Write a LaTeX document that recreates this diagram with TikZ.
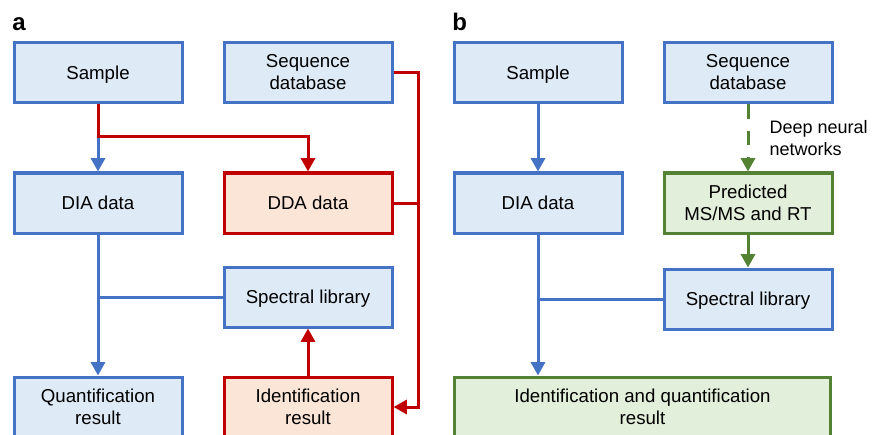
\documentclass[tikz,border=0pt]{standalone}
\usepackage{fontspec}
\setmainfont{Liberation Sans}
\usetikzlibrary{arrows.meta, positioning, calc}
\definecolor{bluebd}{HTML}{4472C4}
\definecolor{bluefl}{HTML}{DEEAF6}
\definecolor{redbd}{HTML}{C00000}
\definecolor{redfl}{HTML}{FBE5D6}
\definecolor{greenbd}{HTML}{548235}
\definecolor{greenfl}{HTML}{E2EFDA}

\begin{document}
\begin{tikzpicture}[x=0.75pt, y=-0.75pt,
                every node/.style={font=\fontsize{14pt}{16.5pt}\selectfont},
                box/.style={draw, line width=2.25pt, minimum width=126pt, minimum height=45pt, align=center, inner sep=0pt},
                oneline/.style={text height=10pt, text depth=0pt},
                bluebox/.style={box, draw=bluebd, fill=bluefl},
                redbox/.style={box, draw=redbd, fill=redfl},
                greenbox/.style={box, draw=greenbd, fill=greenfl},
                link/.style={line width=2.25pt},
                tip/.style={-{Triangle[width=10.5pt, length=10pt]}},
                panel/.style={font=\fontsize{18pt}{20pt}\selectfont\bfseries, anchor=base west, inner sep=0pt}]
                \useasboundingbox (0,0) rectangle (872,435);
                \clip (0,0) rectangle (872,435);
                % panel a
                \node[panel] (la) at (12, 31) {a};
                \node[bluebox, oneline] (sample) at (98, 72.5) {Sample};
                \node[bluebox] (seqdb) at (308, 72.5) {Sequence\\database};
                \node[bluebox, oneline] (dia) at (98, 203) {DIA data};
                \node[redbox, oneline] (dda) at (308, 203) {DDA data};
                \node[bluebox, oneline] (speclib) at (308, 297) {Spectral library};
                \node[bluebox] (quant) at (98, 407) {Quantification\\result};
                \node[redbox] (ident) at (308, 407) {Identification\\result};
                \coordinate (split) at (98, 137);
                \coordinate (rail) at (418, 73);
                \draw[link, bluebd, tip] (split) -- (dia);
                \draw[link, redbd, tip] (sample) -- (split) -| (dda);
                \draw[link, redbd, tip] (seqdb.east |- rail) -- (rail) |- (ident.east);
                \draw[link, redbd] (dda.east) -- (dda.east -| rail);
                \draw[link, bluebd, tip] (dia) -- (quant);
                \draw[link, bluebd] (speclib.west) -- (speclib.west -| dia.south);
                \draw[link, redbd, tip] (ident) -- (speclib);
                % panel b
                \node[panel] (lb) at (452, 31) {b};
                \node[bluebox, oneline] (sample2) at (538, 72.5) {Sample};
                \node[bluebox] (seqdb2) at (748, 72.5) {Sequence\\database};
                \node[bluebox, oneline] (dia2) at (538, 203) {DIA data};
                \node[greenbox] (pred) at (748, 203) {Predicted\\MS/MS and RT};
                \node[bluebox, oneline] (speclib2) at (748, 299) {Spectral library};
                \node[greenbox, minimum width=282pt] (idquant) at (642.5, 407) {Identification and quantification\\result};
                \draw[link, bluebd, tip] (sample2) -- (dia2);
                \draw[link, greenbd, tip, dash pattern=on 11pt off 9pt] (seqdb2) -- node[right=15pt, align=left, text=black, inner sep=0pt, font=\fontsize{13.5pt}{16.5pt}\selectfont] (dnn) {Deep neural\\networks} (pred);
                \draw[link, greenbd, tip] (pred) -- (speclib2);
                \draw[link, bluebd] (speclib2.west) -- (speclib2.west -| dia2.south);
                \draw[link, bluebd, tip] (dia2.south) -- (dia2.south |- idquant.north);
            \end{tikzpicture}
\end{document}
